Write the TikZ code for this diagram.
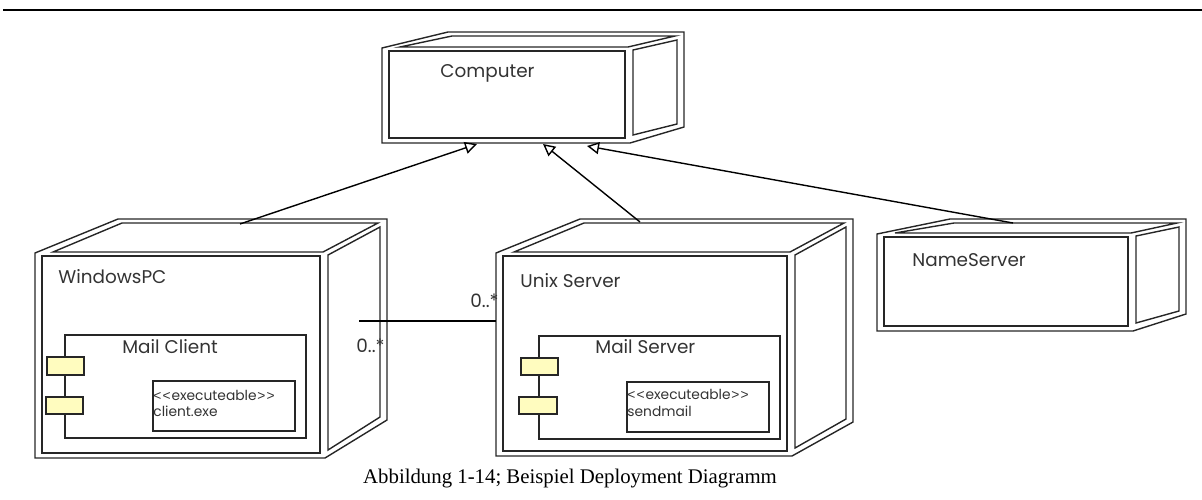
\documentclass[tikz,border=0pt]{standalone}
\usepackage{fontspec}
\setmainfont{Liberation Serif}
\newfontfamily\gothic{Poppins}
\newfontfamily\brk{Liberation Sans}
\usetikzlibrary{arrows.meta}

% 3D deployment node: name, x0, y0, x1, y1, back-left x, back-right x, back top y, back bottom y
\newcommand{\depnode}[9]{%
	\draw[boxline] (#2,#5) -- (#2,#3) -- (#6,#8) -- (#7,#8) -- (#7,#9) -- (#4,#5) -- cycle;
	\draw[boxline] ({#2+7},{#3+3}) rectangle ({#4-5},{#5-5});
	\draw[boxline] ({#2+18},{#3-1}) -- ({#6+4},{#8+4}) -- ({#7-9},{#8+4}) -- ({#4-2},{#3-1}) -- cycle;
	\draw[boxline] ({#4+3},{#3+2}) -- ({#7-7},{#8+8}) -- ({#7-7},{#9-3}) -- ({#4+3},{#5-8}) -- cycle;
	\coordinate (#1) at ({(#2+#4)/2},{(#3+#5)/2});
}
\newcommand{\stereo}[1]{{\brk<\kern0.6pt<}\kern0.4pt#1\kern0.4pt{\brk>\kern0.6pt>}}

\begin{document}
\begin{tikzpicture}[x=0.5pt,y=-0.5pt]
			\tikzset{boxline/.style={line width=0.7pt, draw=black!85},
				lbl/.style={anchor=west, inner sep=0, font=\fontsize{9.2}{11}\gothic, text=black!80},
				small/.style={anchor=west, inner sep=0, font=\fontsize{6.9}{7.5}\gothic, text=black!80},
				port/.style={line width=0.7pt, draw=black!85, fill=yellow!25},
				genarrow/.style={line width=0.7pt, -{Triangle[open, length=6pt, width=6pt]}}}
\useasboundingbox (0,0) rectangle (1202,499);
\draw[line width=1.3pt] (3,10) -- (1202,10);

% nodes
\depnode{computer}{382}{48}{630}{143}{448}{684}{32}{127}
\depnode{winpc}{35}{253}{325}{458}{118}{387}{219}{420}
\depnode{unix}{496}{253}{792}{456}{580}{853}{219}{422}
\depnode{names}{877}{234}{1133}{331}{950}{1186}{219}{314}

\node[lbl] at (440, 73) (tcomp) {Computer};
\node[lbl] at (58, 277) (twin) {WindowsPC};
\node[lbl] at (520, 281) (tunix) {Unix Server};
\node[lbl] at (912, 260) (tnames) {NameServer};

% components
			\draw[boxline] (65,335) rectangle (306,438);
			\draw[port] (47,357) rectangle (84,375);
			\draw[port] (46,397) rectangle (83,414);
			\draw[boxline] (153,381) rectangle (295,431);
\node[lbl] at (122, 347) (tclient) {Mail Client};
\node[small] at (153, 395) (tex1) {\stereo{executeable}};
\node[small] at (153, 411) (tcl) {client.exe};

			\draw[boxline] (539,336) rectangle (780,439);
			\draw[port] (521,358) rectangle (558,375);
			\draw[port] (519,397) rectangle (557,414);
			\draw[boxline] (627,382) rectangle (769,432);
\node[lbl] at (595, 347) (tserver) {Mail Server};
\node[small] at (627, 394) (tex2) {\stereo{executeable}};
\node[small] at (627, 411) (tsm) {sendmail};

% association
\coordinate (assoc-a) at (359,321);
\coordinate (assoc-b) at (496,321);
			\draw [line width=0.8pt] (assoc-a) -- (assoc-b);
\node[lbl] at (356, 346) (mwin) {0..*};
\node[lbl] at (470, 301) (munix) {0..*};

% generalizations
\coordinate (wtop) at (240,224);
\coordinate (utop) at (640,222);
\coordinate (ntop) at (1013,223);
\coordinate (ca) at (477,144);
\coordinate (cb) at (543,144);
\coordinate (cc) at (587,146);
			\draw [genarrow] (wtop) -- (ca);
			\draw [genarrow] (utop) -- (cb);
			\draw [genarrow] (ntop) -- (cc);

\node[font=\fontsize{10.4}{12}\selectfont, inner sep=0] at (570, 479) (caption) {Abbildung 1-14; Beispiel Deployment Diagramm};
\end{tikzpicture}
\end{document}
